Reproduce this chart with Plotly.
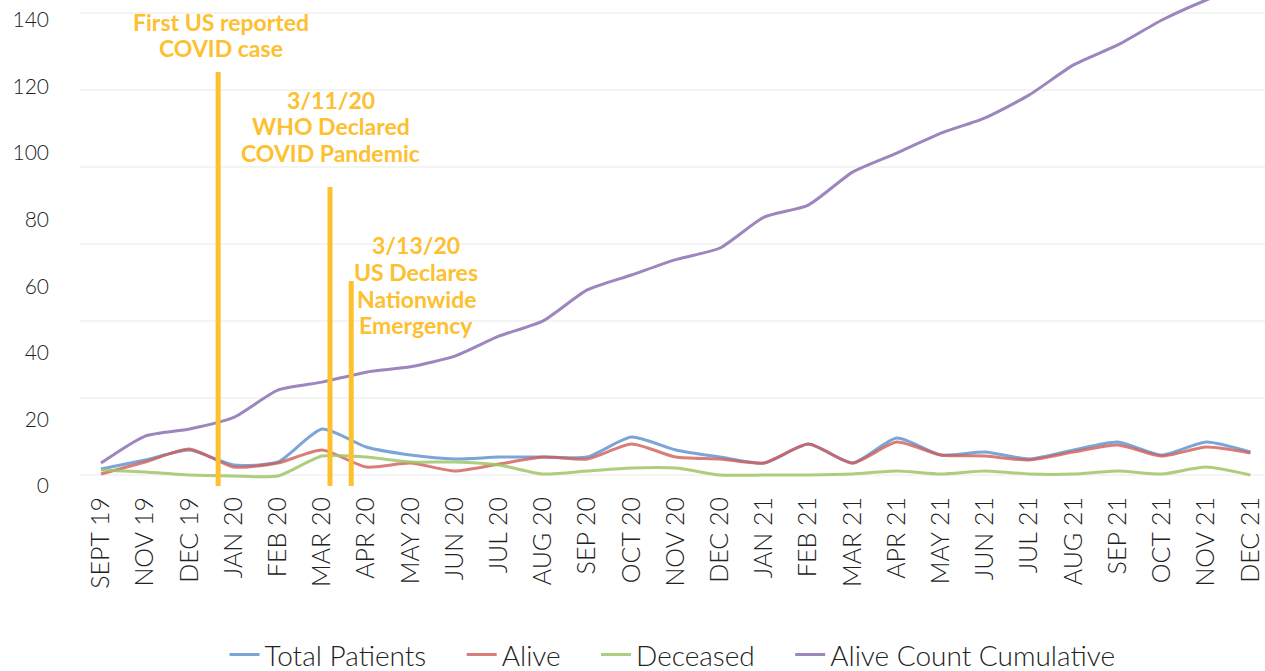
import plotly.graph_objects as go

months = ["SEPT 19", "NOV 19", "DEC 19", "JAN 20", "FEB 20", "MAR 20", "APR 20", "MAY 20",
          "JUN 20", "JUL 20", "AUG 20", "SEP 20", "OCT 20", "NOV 20", "DEC 20", "JAN 21",
          "FEB 21", "MAR 21", "APR 21", "MAY 21", "JUN 21", "JUL 21", "AUG 21", "SEP 21",
          "OCT 21", "NOV 21", "DEC 21"]

total_patients = [5.1, 7.8, 10.8, 6.3, 7.2, 17.1, 11.7, 9.3, 8.1, 8.7, 8.7, 8.7, 14.7, 10.8,
                  8.7, 6.9, 12.6, 6.9, 14.4, 9.3, 10.2, 8.1, 10.8, 13.2, 9.3, 13.2, 10.2]
alive = [3.6, 7.2, 11.1, 5.7, 6.9, 10.8, 5.7, 6.9, 4.5, 6.6, 8.7, 8.1, 12.6, 8.7,
         8.1, 6.9, 12.6, 6.9, 13.2, 9.3, 9.0, 7.8, 10.2, 12.3, 9.0, 11.7, 9.9]
deceased = [4.8, 4.2, 3.3, 3.0, 3.0, 9.0, 8.7, 7.2, 7.2, 6.3, 3.6, 4.5, 5.4, 5.4,
            3.3, 3.3, 3.3, 3.6, 4.5, 3.6, 4.5, 3.6, 3.6, 4.5, 3.6, 5.7, 3.3]
alive_cumulative = [6.9, 15.0, 17.1, 20.6, 28.8, 31.2, 34.2, 35.8, 39.0, 45.0, 49.6, 58.9,
                    63.4, 68.0, 71.5, 80.8, 84.4, 94.3, 100.0, 106.0, 110.6, 117.5, 126.5,
                    132.5, 140.0, 146.0, 151.0]

y_ticks = [0, 20, 40, 60, 80, 100, 120, 140]

event_lines = [
    ["1/20/20", "First US reported", "COVID case"],
    ["3/11/20", "WHO Declared", "COVID Pandemic"],
    ["3/13/20", "US Declares", "Nationwide", "Emergency"],
]

# layout positions of the event markers (category-index units / value units)
event_line_x = [2.65, 5.18, 5.66]
event_line_top = [124.4, 89.8, 61.6]
event_text_x = [2.72, 5.2, 7.13]
event_text_top = [147.5, 116.0, 72.3]   # centre of first text line
LINE_STEP = 8.0                          # value units between text lines (~26.6 px)

series = [
    ("Total Patients", total_patients, "rgba(91,142,205,0.8)"),
    ("Alive", alive, "rgba(208,92,88,0.8)"),
    ("Deceased", deceased, "rgba(160,198,105,0.85)"),
    ("Alive Count Cumulative", alive_cumulative, "rgba(140,112,178,0.85)"),
]
legend_pad = "\u00a0\u00a0\u00a0\u00a0"

YELLOW = "#FDC02F"
FONT = "Lato, 'Open Sans', sans-serif"

fig = go.Figure()

# invisible trace anchoring the gridline axis
fig.add_trace(go.Scatter(x=[], y=[], xaxis="x", yaxis="y", showlegend=False,
                         hoverinfo="skip"))

for i, (name, vals, col) in enumerate(series):
    label = name + (legend_pad if i < len(series) - 1 else "")
    fig.add_trace(go.Scatter(
        x=months, y=vals, name=label, mode="lines", yaxis="y2",
        line=dict(color=col, width=3, shape="spline", smoothing=0.6),
    ))

for xv, top in zip(event_line_x, event_line_top):
    fig.add_shape(type="line", xref="x", yref="y2", x0=xv, x1=xv, y0=0, y1=top,
                  line=dict(color=YELLOW, width=5), layer="above")

for lines, xv, ytop in zip(event_lines, event_text_x, event_text_top):
    for k, txt in enumerate(lines):
        fig.add_annotation(text=txt, x=xv, y=ytop - k * LINE_STEP, xref="x", yref="y2",
                           showarrow=False, xanchor="center", yanchor="middle",
                           font=dict(family=FONT, size=23, color=YELLOW, weight="bold"))

fig.update_layout(
    width=1265, height=671,
    margin=dict(l=80, r=0, t=0, b=185, autoexpand=False),
    paper_bgcolor="white", plot_bgcolor="white",
    font=dict(family=FONT, color="#333333"),
    xaxis=dict(
        type="category", categoryorder="array", categoryarray=months,
        range=[-0.475, 26.33], tickangle=-90, showgrid=False, zeroline=False,
        showline=False, ticks="", ticklabelstandoff=5, automargin=False,
        tickfont=dict(family=FONT, size=25, color="#222222", weight=300),
    ),
    yaxis=dict(
        range=[-2.86, 123.4], dtick=20, tick0=0, showgrid=True,
        gridcolor="#f4f4f4", gridwidth=2, zeroline=False, showticklabels=False,
        ticks="", showline=False, automargin=False,
    ),
    yaxis2=dict(
        overlaying="y", side="left", anchor="x", range=[0, 146],
        tickvals=y_ticks, showgrid=False, zeroline=False, showline=False, ticks="",
        ticklabelstandoff=30, automargin=False,
        tickfont=dict(family=FONT, size=21, color="#222222", weight=300),
    ),
    legend=dict(
        orientation="h", x=0.5, xanchor="center", yref="container", y=0.024,
        yanchor="middle", font=dict(family=FONT, size=28, color="#222222", weight=300),
        itemwidth=30, traceorder="normal",
    ),
    showlegend=True,
)

fig.write_html("out.html", config={"displayModeBar": False},
               post_script="document.body.style.margin='0px';")
